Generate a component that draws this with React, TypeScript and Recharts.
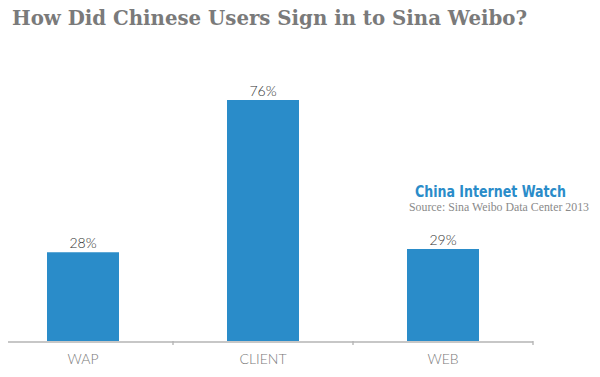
import React from "react";
import { BarChart, Bar, XAxis, YAxis, LabelList } from "recharts";

const categories = ["WAP", "CLIENT", "WEB"];
const shares = [28, 76, 29];
const boundaryTicks = [0, 1, 2, 3];

const data = categories.map((c, i) => ({ name: c, value: shares[i], pos: i + 0.5 }));

const TITLE = "How Did Chinese Users Sign in to Sina Weibo?";
const BRAND = "China Internet Watch";
const SOURCE = "Source: Sina Weibo Data Center 2013";

const EmptyTick = () => <g />;

export default function App() {
  return (
    <div style={{ position: "relative", width: 600, height: 377, margin: -8, background: "#fff" }}>
      <BarChart
        width={600}
        height={377}
        data={data}
        margin={{ top: 24, right: 67, bottom: 0, left: -7 }}
      >
        <XAxis
          xAxisId="bounds"
          type="number"
          dataKey="pos"
          domain={[0, 3]}
          ticks={boundaryTicks}
          height={1}
          axisLine={false}
          tick={EmptyTick}
          tickLine={{ stroke: "#999", strokeWidth: 1 }}
          tickSize={4}
          allowDataOverflow
        />
        <XAxis
          xAxisId="cat"
          dataKey="name"
          height={35}
          axisLine={{ stroke: "#b5b5b5", strokeWidth: 1.5 }}
          tickLine={false}
          tickSize={6}
          tickMargin={6}
          tick={{ fill: "#7a7a7a", fontSize: 14, fontFamily: "Lato, 'DejaVu Sans', sans-serif", fontWeight: 300 }}
        />
        <YAxis hide domain={[0, 100]} />
        <Bar xAxisId="cat" dataKey="value" fill="#2a8cc9" barSize={72} isAnimationActive={false}>
          <LabelList
            dataKey="value"
            position="top"
            offset={4}
            formatter={(v: number) => `${v}%`}
            fill="#333"
            fontSize={14}
            fontFamily="Lato, 'DejaVu Sans', sans-serif"
            fontWeight={300}
          />
        </Bar>
      </BarChart>
      <svg
        width={600}
        height={377}
        style={{ position: "absolute", left: 0, top: 0, pointerEvents: "none" }}
      >
        <text
          x={12}
          y={25}
          fontFamily="'DejaVu Serif', 'Liberation Serif', serif"
          fontWeight="bold"
          fontSize={21}
          fill="#7a7a7a"
          textLength={515}
          lengthAdjust="spacingAndGlyphs"
        >
          {TITLE}
        </text>
        <text
          x={415}
          y={197}
          fontFamily="'DejaVu Sans Condensed', 'DejaVu Sans', sans-serif"
          fontWeight="bold"
          fontSize={16}
          fill="#2a8cc9"
          textLength={151}
          lengthAdjust="spacingAndGlyphs"
        >
          {BRAND}
        </text>
        <text
          x={409}
          y={211}
          fontFamily="'Liberation Serif', 'DejaVu Serif', serif"
          fontSize={12}
          fill="#8a8a8a"
          textLength={180}
          lengthAdjust="spacingAndGlyphs"
        >
          {SOURCE}
        </text>
      </svg>
    </div>
  );
}
